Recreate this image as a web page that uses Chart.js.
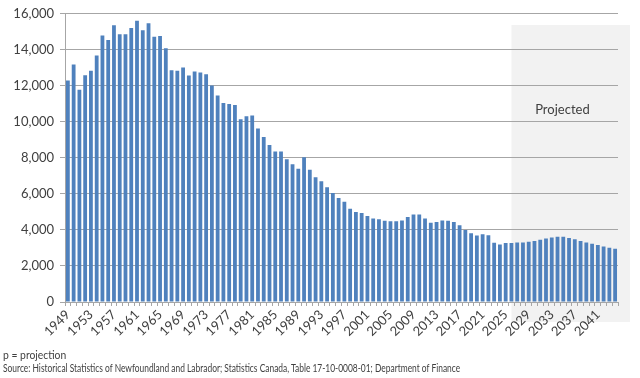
<!DOCTYPE html>
<html>
<head>
<meta charset="utf-8">
<script src="https://cdn.jsdelivr.net/npm/chart.js@4.4.0/dist/chart.umd.min.js"></script>
<style>
  html, body { margin: 0; padding: 0; background: #fff; }
  #wrap { position: relative; width: 640px; height: 378px; }
  canvas { position: absolute; left: 0; top: 0; }
  .note { position: absolute; left: 3px; font: 11.5px Lato, sans-serif; color: #404040; white-space: nowrap; transform-origin: 0 0; }
</style>
</head>
<body>
<div id="wrap">
  <canvas id="myChart" width="640" height="378"></canvas>
  <div class="note" id="note1" style="top:348px">p = projection</div>
  <div class="note" id="note2" style="top:361px">Source: Historical Statistics of Newfoundland and Labrador; Statistics Canada, Table 17-10-0008-01; Department of Finance</div>
</div>
<script>
// years on the x axis
const years = [
  '1949','1950','1951','1952','1953','1954','1955','1956','1957','1958',
  '1959','1960','1961','1962','1963','1964','1965','1966','1967','1968',
  '1969','1970','1971','1972','1973','1974','1975','1976','1977','1978',
  '1979','1980','1981','1982','1983','1984','1985','1986','1987','1988',
  '1989','1990','1991','1992','1993','1994','1995','1996','1997','1998',
  '1999','2000','2001','2002','2003','2004','2005','2006','2007','2008',
  '2009','2010','2011','2012','2013','2014','2015','2016','2017','2018',
  '2019','2020','2021','2022','2023','2024','2025','2026','2027','2028',
  '2029','2030','2031','2032','2033','2034','2035','2036','2037','2038',
  '2039','2040','2041','2042','2043','2044'
];

// values per year
const births = [
  12300, 13190, 11780, 12590, 12840, 13690, 14790, 14550, 15360, 14860,
  14860, 15210, 15610, 15080, 15470, 14720, 14770, 14090, 12860, 12840,
  13020, 12570, 12790, 12740, 12640, 12020, 11460, 11050, 10990, 10940,
  10150, 10310, 10350, 9630, 9160, 8720, 8350, 8350, 7930, 7650,
  7400, 8040, 7340, 6920, 6700, 6370, 6050, 5780, 5560, 5180,
  4990, 4940, 4770, 4640, 4590, 4510, 4480, 4480, 4530, 4720,
  4860, 4860, 4640, 4400, 4440, 4530, 4510, 4440, 4260, 4000,
  3820, 3690, 3760, 3710, 3290, 3190, 3270, 3270, 3300, 3300,
  3340, 3380, 3450, 3520, 3580, 3620, 3620, 3560, 3490, 3380,
  3300, 3230, 3160, 3080, 3010, 2960
];

const yTicks = [0, 2000, 4000, 6000, 8000, 10000, 12000, 14000, 16000];
const projectionStart = '2026';

const textColor = '#404040';
const lineColor = '#a6a6a6';

// the notes are set in a narrow font in the original; squeeze ours to the same length
function squeezeTo(id, width) {
  const el = document.getElementById(id);
  el.style.transform = 'scaleX(' + (width / el.scrollWidth) + ')';
}
squeezeTo('note1', 63);
squeezeTo('note2', 457);

// grey box behind the projected years
const projectionShade = {
  id: 'projectionShade',
  beforeDraw(chart) {
    const {ctx, scales: {x}} = chart;
    const left = x.getPixelForValue(years.indexOf(projectionStart));
    const right = 630;
    ctx.save();
    ctx.fillStyle = '#f2f2f2';
    ctx.fillRect(left, 25, right - left, 322 - 25);
    ctx.fillStyle = textColor;
    ctx.font = '13px Lato';
    ctx.textAlign = 'center';
    ctx.fillText('Projected', left + 51, 114);
    ctx.restore();
  }
};

new Chart(document.getElementById('myChart'), {
  type: 'bar',
  data: {
    labels: years,
    datasets: [{
      data: births,
      backgroundColor: '#4f81bd',
      barPercentage: 0.66,
      categoryPercentage: 1
    }]
  },
  options: {
    responsive: false,
    animation: false,
    layout: { padding: { top: 0, right: 22, left: 0, bottom: 0 } },
    plugins: { legend: { display: false }, tooltip: { enabled: false } },
    scales: {
      x: {
        grid: { drawOnChartArea: false, drawTicks: true, tickLength: 4, color: lineColor, offset: true },
        border: { color: lineColor },
        ticks: {
          autoSkip: false,
          maxRotation: 45,
          minRotation: 45,
          padding: 1,
          color: textColor,
          font: { family: 'Lato', size: 13 },
          callback: (v, i) => (i % 4 === 0 ? years[i] : '')
        },
        afterFit: (scale) => { scale.height = 76; }
      },
      y: {
        min: 0,
        max: 16000,
        afterBuildTicks: (scale) => { scale.ticks = yTicks.map(v => ({value: v})); },
        grid: { color: lineColor, tickLength: 5 },
        border: { color: lineColor },
        ticks: {
          color: textColor,
          padding: 6,
          font: { family: 'Lato', size: 13 },
          callback: (v) => v.toLocaleString('en-US')
        },
        afterFit: (scale) => { scale.width = 65; }
      }
    }
  },
  plugins: [projectionShade]
});
</script>
</body>
</html>
